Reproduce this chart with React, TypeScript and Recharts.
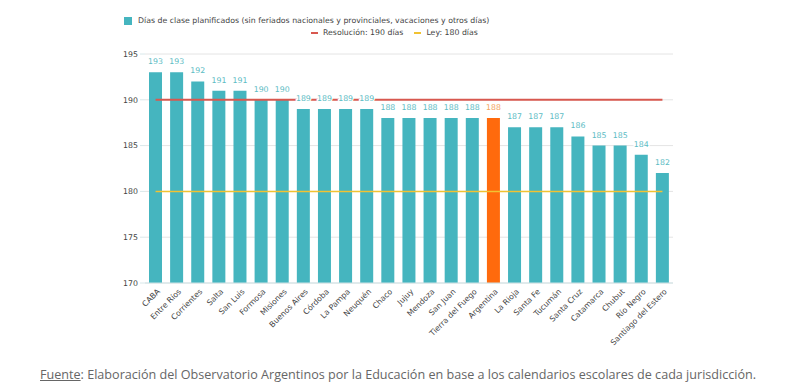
import { ComposedChart, Bar, Line, XAxis, YAxis, CartesianGrid, Cell, LabelList } from 'recharts';

const provincias = [
  'CABA', 'Entre Ríos', 'Corrientes', 'Salta', 'San Luis', 'Formosa', 'Misiones',
  'Buenos Aires', 'Córdoba', 'La Pampa', 'Neuquén', 'Chaco', 'Jujuy', 'Mendoza',
  'San Juan', 'Tierra del Fuego', 'Argentina', 'La Rioja', 'Santa Fe', 'Tucumán',
  'Santa Cruz', 'Catamarca', 'Chubut', 'Río Negro', 'Santiago del Estero',
];
const diasPlanificados = [
  193, 193, 192, 191, 191, 190, 190, 189, 189, 189, 189, 188, 188, 188, 188, 188,
  188, 187, 187, 187, 186, 185, 185, 184, 182,
];
const resolucion = 190;
const ley = 180;
const yTicks = [170, 175, 180, 185, 190, 195];

const TEAL = '#45b5bf';
const ORANGE = '#ff6a0d';
const RED = '#d8584f';
const YELLOW = '#f1c232';
const FONT = '"DejaVu Sans", Verdana, sans-serif';
const FS = 7.8;

const data = provincias.map((name, i) => ({
  name,
  dias: diasPlanificados[i],
  res: resolucion,
  ley,
}));

function XTick({ x, y, payload }: any) {
  return (
    <text
      x={x + 5}
      y={y + 1}
      transform={`rotate(-45, ${x + 5}, ${y + 1})`}
      textAnchor="end"
      fontSize={FS}
      fontFamily={FONT}
      fill="#444"
    >
      {payload.value}
    </text>
  );
}

// labels sit on an invisible line drawn after the reference lines, so they stay on top
function ValueLabel({ x, y, value, index }: any) {
  const isArg = provincias[index] === 'Argentina';
  return (
    <text
      x={x}
      y={y - 8}
      textAnchor="middle"
      fontSize={FS}
      fontFamily={FONT}
      fill={isArg ? '#f3a55e' : '#5cbcc4'}
      stroke="#fff"
      strokeWidth={2.5}
      paintOrder="stroke"
    >
      {value}
    </text>
  );
}

export default function App() {
  return (
    <div style={{ position: 'absolute', left: 0, top: 0, width: 800, height: 392, background: '#fff' }}>
      {/* legend */}
      <div style={{ position: 'absolute', left: 124, top: 16, fontFamily: FONT, fontSize: FS, color: '#444', whiteSpace: 'nowrap' }}>
        <span style={{ display: 'inline-block', width: 8, height: 8, background: TEAL, verticalAlign: 'middle', marginRight: 6 }} />
        <span style={{ verticalAlign: 'middle' }}>
          Días de clase planificados (sin feriados nacionales y provinciales, vacaciones y otros días)
        </span>
      </div>
      <div style={{ position: 'absolute', left: 311, top: 28, fontFamily: FONT, fontSize: FS, color: '#444', whiteSpace: 'nowrap' }}>
        <span style={{ display: 'inline-block', width: 7, height: 2, background: RED, verticalAlign: 'middle', marginRight: 5 }} />
        <span style={{ verticalAlign: 'middle', marginRight: 11 }}>Resolución: 190 días</span>
        <span style={{ display: 'inline-block', width: 7, height: 2, background: YELLOW, verticalAlign: 'middle', marginRight: 5 }} />
        <span style={{ verticalAlign: 'middle' }}>Ley: 180 días</span>
      </div>

      <ComposedChart
        width={800}
        height={392}
        data={data}
        margin={{ top: 54, right: 127, left: 0, bottom: 0 }}
        style={{ position: 'absolute', left: 0, top: 0 }}
      >
        <CartesianGrid vertical={false} stroke="#e4e4e4" />
        <XAxis
          dataKey="name"
          interval={0}
          height={109}
          tick={<XTick />}
          tickLine={false}
          axisLine={{ stroke: '#cfe3e6' }}
        />
        <YAxis
          width={145}
          domain={[170, 195]}
          ticks={yTicks}
          axisLine={false}
          tickLine={{ stroke: '#d8e8ea' }}
          tickSize={5}
          tick={{ fontSize: FS, fontFamily: FONT, fill: '#444' }}
        />
        <Bar dataKey="dias" barSize={13} isAnimationActive={false}>
          {data.map((d, i) => (
            <Cell key={i} fill={d.name === 'Argentina' ? ORANGE : TEAL} />
          ))}
        </Bar>
        <Line dataKey="res" stroke={RED} strokeWidth={2} dot={false} activeDot={false} isAnimationActive={false} />
        <Line dataKey="ley" stroke={YELLOW} strokeWidth={1.5} dot={false} activeDot={false} isAnimationActive={false} />
        <Line dataKey="dias" stroke="none" dot={false} activeDot={false} isAnimationActive={false}>
          <LabelList dataKey="dias" content={<ValueLabel />} />
        </Line>
      </ComposedChart>

      <div style={{ position: 'absolute', left: 40, top: 366, fontFamily: '"Open Sans", sans-serif', fontSize: 12.6, color: '#666', whiteSpace: 'nowrap' }}>
        <span style={{ textDecoration: 'underline' }}>Fuente</span>: Elaboración del Observatorio Argentinos por la Educación en base a los calendarios escolares de cada jurisdicción.
      </div>
    </div>
  );
}
